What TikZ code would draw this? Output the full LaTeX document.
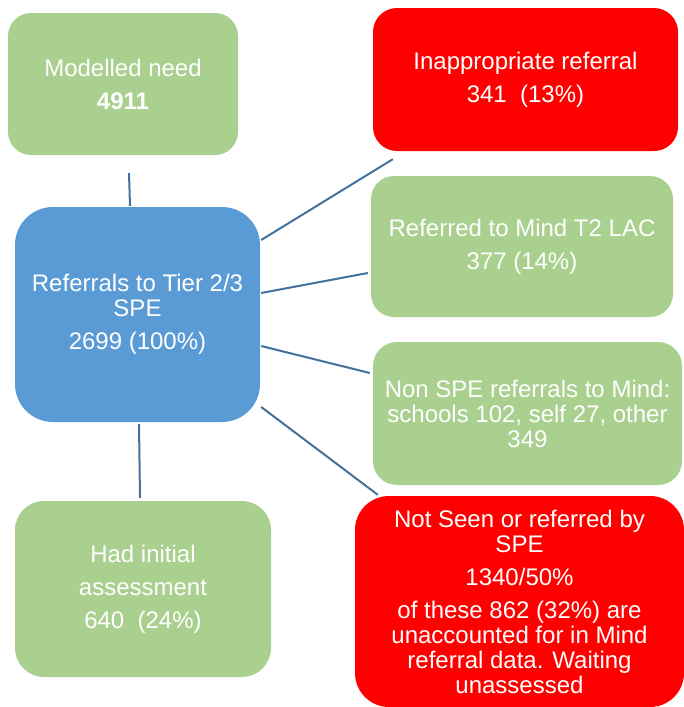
\documentclass[tikz,border=0pt]{standalone}
\usepackage{fontspec}
\setmainfont{Liberation Sans}
\usepackage{xcolor}
\definecolor{boxgreen}{HTML}{A9D08E}
\definecolor{boxblue}{HTML}{5B9BD5}
\definecolor{boxred}{HTML}{FF0000}
\definecolor{linkblue}{HTML}{41719C}

\begin{document}
\begin{tikzpicture}[x=1pt,y=-1pt,
        box/.style={rectangle, inner sep=0pt, align=center, text=white,
            font=\fontsize{24}{25}\selectfont},
        green/.style={box, fill=boxgreen},
        red/.style={box, fill=boxred},
        blue/.style={box, fill=boxblue},
        link/.style={draw=linkblue, line width=2pt}]
            \useasboundingbox (0,0) rectangle (683,707);
            \node[green, minimum width=230, minimum height=142, rounded corners=23] (need) at (123,84)
                {Modelled need\\[8pt]\textbf{4911}};
            \node[red, minimum width=305, minimum height=143, rounded corners=24] (inap) at (525.5,79.5)
                {Inappropriate referral\\[8pt]341\ \ (13\%)};
            \node[blue, minimum width=245, minimum height=215, rounded corners=38] (tier) at (137.5,314.5)
                {Referrals to Tier 2/3\\SPE\\[8pt]2699 (100\%)};
            \node[green, minimum width=302, minimum height=141, rounded corners=23] (mind) at (522,246.5)
                {Referred to Mind T2 LAC\\[8pt]377 (14\%)};
            \node[green, minimum width=309, minimum height=143, rounded corners=24] (nonspe) at (527.5,413.5)
                {Non SPE referrals to Mind:\\schools 102, self 27, other\\349};
            \node[green, minimum width=256, minimum height=176, rounded corners=29] (initial) at (143,589)
                {Had initial\\[8pt]assessment\\[8pt]640\ \ (24\%)};
            \node[red, minimum width=329, minimum height=211, rounded corners=34] (unseen) at (519.5,601.5)
                {Not Seen or referred by\\SPE\\[8pt]1340/50\%\\[8pt]of these 862 (32\%) are\\unaccounted for in Mind\\referral data. Waiting\\unassessed};
            \path[link]
                ([xshift=6pt,yshift=-18pt]need.south)
                    edge ([xshift=-7.5pt,yshift=1pt]tier.north)
                ([xshift=1pt,yshift=74.5pt]tier.east)
                    edge ([xshift=20pt,yshift=-8pt]inap.south west)
                ([xshift=1pt,yshift=21.5pt]tier.east)
                    edge ([xshift=-3pt,yshift=-26.5pt]mind.west)
                ([xshift=1pt,yshift=-31.5pt]tier.east)
                    edge ([xshift=-3pt,yshift=40.5pt]nonspe.west)
                ([xshift=1pt,yshift=-92.5pt]tier.east)
                    edge ([xshift=23pt,yshift=1pt]unseen.north west)
                ([xshift=1.5pt,yshift=-2pt]tier.south)
                    edge ([xshift=-3pt,yshift=3pt]initial.north);
        \end{tikzpicture}
\end{document}
